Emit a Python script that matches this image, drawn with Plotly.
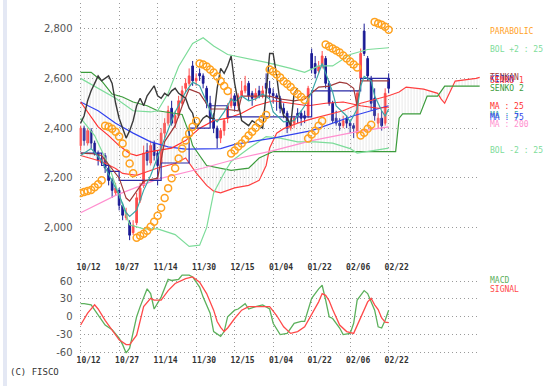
import plotly.graph_objects as go

# ---------------- data ----------------
dates = ["10/12", "10/27", "11/14", "11/30", "12/15", "01/04", "01/22", "02/06", "02/22"]
date_idx = [0, 11, 22, 33, 44, 55, 66, 77, 88]
price_ticks = [2000, 2200, 2400, 2600, 2800]
price_labels = ["2,000", "2,200", "2,400", "2,600", "2,800"]
macd_ticks = [60, 30, 0, -30, -60]
macd_labels = ["60", "30", "0", "-30", "-60"]

bars = list(range(89))
opens = [2330, 2400, 2340, 2390, 2340, 2300, 2260, 2290, 2240, 2190, 2140, 2150, 2090, 2040, 2020, 1980, 2020, 2110, 2170, 2310,
         2260, 2340, 2300, 2260, 2380, 2420, 2480, 2420, 2450, 2500, 2560, 2580, 2650, 2590, 2620, 2610, 2560, 2500, 2440, 2400,
         2360, 2390, 2440, 2490, 2530, 2490, 2530, 2550, 2580, 2540, 2520, 2550, 2530, 2580, 2560, 2540, 2530, 2520, 2480, 2460,
         2400, 2420, 2460, 2460, 2450, 2450, 2700, 2660, 2630, 2650, 2680, 2580, 2500, 2440, 2420, 2410, 2440, 2420, 2410, 2380,
         2600, 2790, 2680, 2600, 2520, 2420, 2440, 2420, 2600]
highs = [2410, 2410, 2400, 2400, 2350, 2310, 2300, 2300, 2250, 2200, 2180, 2160, 2100, 2080, 2030, 2030, 2140, 2180, 2330, 2340,
         2350, 2350, 2310, 2400, 2440, 2490, 2510, 2470, 2530, 2570, 2600, 2640, 2670, 2620, 2640, 2620, 2570, 2530, 2460, 2410,
         2400, 2440, 2500, 2560, 2540, 2540, 2590, 2610, 2590, 2550, 2560, 2570, 2570, 2620, 2590, 2560, 2540, 2530, 2500, 2470,
         2440, 2450, 2480, 2470, 2470, 2570, 2720, 2690, 2670, 2710, 2690, 2590, 2510, 2470, 2440, 2450, 2450, 2430, 2420, 2550,
         2720, 2820, 2690, 2610, 2560, 2460, 2470, 2560, 2620]
lows = [2310, 2330, 2330, 2320, 2290, 2250, 2250, 2220, 2170, 2120, 2130, 2070, 2030, 2030, 1950, 1970, 2010, 2100, 2160, 2250,
        2250, 2270, 2170, 2250, 2360, 2410, 2410, 2400, 2440, 2490, 2540, 2570, 2570, 2570, 2590, 2560, 2480, 2420, 2380, 2320,
        2340, 2370, 2420, 2480, 2470, 2480, 2520, 2540, 2510, 2490, 2510, 2520, 2520, 2540, 2520, 2500, 2470, 2460, 2440, 2380,
        2390, 2400, 2420, 2410, 2420, 2440, 2620, 2600, 2620, 2640, 2560, 2490, 2420, 2410, 2390, 2400, 2400, 2380, 2360, 2370,
        2590, 2690, 2590, 2470, 2430, 2400, 2390, 2410, 2540]
closes = [2400, 2350, 2390, 2340, 2300, 2270, 2280, 2240, 2190, 2150, 2160, 2090, 2050, 2060, 1970, 2010, 2120, 2160, 2300, 2270,
          2330, 2290, 2250, 2380, 2420, 2470, 2420, 2450, 2510, 2550, 2580, 2610, 2590, 2600, 2610, 2580, 2500, 2440, 2400, 2360,
          2390, 2430, 2490, 2520, 2490, 2530, 2550, 2570, 2530, 2520, 2540, 2530, 2550, 2560, 2540, 2530, 2520, 2480, 2460, 2400,
          2420, 2440, 2450, 2440, 2440, 2560, 2640, 2620, 2650, 2690, 2580, 2500, 2430, 2420, 2410, 2430, 2420, 2410, 2400, 2540,
          2700, 2700, 2610, 2500, 2450, 2440, 2410, 2540, 2560]

ma5_idx = [0, 3, 6, 9, 11, 13, 14, 16, 18, 20, 22, 24, 27, 30, 32, 34, 36, 38, 39, 41, 43, 44, 46, 48, 50, 52, 54, 55, 58, 61,
           62, 64, 66, 67, 68, 69, 70, 72, 73, 76, 77, 79, 80, 81, 83, 84, 86, 87, 88]
ma5_val = [2290, 2318, 2270, 2190, 2131, 2060, 2045, 2070, 2150, 2210, 2280, 2358, 2465, 2545, 2585, 2570, 2505, 2437, 2425, 2465,
           2517, 2505, 2529, 2510, 2517, 2537, 2517, 2465, 2425, 2430, 2449, 2489, 2545, 2580, 2620, 2660, 2624, 2545, 2489, 2449,
           2425, 2477, 2569, 2608, 2590, 2529, 2470, 2449, 2477]
ma25_idx = [0, 2, 5, 8, 11, 14, 16, 20, 22, 26, 30, 34, 38, 42, 46, 50, 55, 60, 65, 70, 75, 80, 85, 88]
ma25_val = [2505, 2465, 2405, 2370, 2330, 2298, 2290, 2306, 2310, 2320, 2350, 2400, 2430, 2440, 2460, 2490, 2510, 2500, 2490, 2500,
            2505, 2490, 2480, 2485]
ma75_idx = [0, 5, 10, 15, 20, 25, 30, 40, 44, 55, 66, 78, 88]
ma75_val = [2505, 2470, 2420, 2380, 2345, 2325, 2316, 2318, 2335, 2360, 2390, 2450, 2490]
ma200_idx = [0, 10, 22, 35, 45, 55, 66, 79, 88]
ma200_val = [2060, 2130, 2195, 2240, 2278, 2310, 2350, 2386, 2405]

bolu_idx = [0, 5, 10, 15, 20, 22, 25, 28, 32, 35, 38, 42, 48, 53, 60, 64, 68, 72, 77, 82, 88]
bolu_val = [2600, 2560, 2520, 2470, 2465, 2470, 2540, 2648, 2740, 2763, 2730, 2696, 2680, 2664, 2640, 2624, 2650, 2650, 2696,
            2716, 2723]
boll_idx = [0, 4, 8, 11, 14, 18, 22, 27, 31, 34, 36, 38, 41, 43, 48, 53, 57, 62, 67, 72, 77, 79, 83, 88]
boll_val = [2440, 2370, 2250, 2130, 2012, 1995, 1995, 1972, 1925, 1930, 2000, 2140, 2220, 2266, 2318, 2366, 2360, 2345, 2345,
            2340, 2318, 2300, 2310, 2320]

tenkan_idx = [0, 3, 6, 9, 11, 13, 14, 16, 18, 22, 24, 27, 29, 31, 34, 37, 41, 45, 46, 54, 57, 61, 64, 68, 71, 74, 76, 78, 79,
              80, 88]
tenkan_val = [2300, 2298, 2290, 2238, 2200, 2119, 2107, 2147, 2187, 2199, 2346, 2410, 2489, 2557, 2540, 2477, 2477, 2470, 2529,
              2529, 2517, 2510, 2517, 2565, 2569, 2585, 2580, 2560, 2490, 2590, 2590]
kijun_idx = [0, 6, 8, 11, 23, 31, 37, 42, 66, 80, 88]
kijun_val = [2300, 2250, 2226, 2190, 2260, 2400, 2490, 2445, 2550, 2600, 2600]
senkou1_idx = [0, 6, 10, 12, 16, 19, 22, 27, 30, 33, 36, 38, 40, 44, 48, 51, 53, 54, 56, 58, 62, 66, 68, 75, 80, 88, 91, 93,
               98, 102, 103, 104, 105, 107, 113, 114]
senkou1_val = [2290, 2266, 2238, 2218, 2210, 2226, 2240, 2258, 2280, 2220, 2170, 2147, 2140, 2160, 2170, 2190, 2250, 2320, 2380,
               2398, 2420, 2437, 2445, 2470, 2500, 2530, 2545, 2565, 2557, 2540, 2517, 2500, 2530, 2589, 2600, 2604]
senkou2_idx = [0, 3, 6, 9, 12, 15, 19, 22, 29, 31, 32, 36, 43, 48, 51, 55, 90, 91, 92, 97, 99, 102, 104, 114]
senkou2_val = [2624, 2624, 2590, 2537, 2525, 2505, 2490, 2470, 2455, 2380, 2330, 2250, 2230, 2239, 2280, 2306, 2306, 2440, 2457,
               2457, 2529, 2529, 2569, 2569]
chikou_lag = 26

sar_val = [2139, 2143, 2147, 2151, 2163, 2175, 2191,
           2410, 2406, 2398, 2386, 2366, 2338, 2298, 2258, 2219,
           1960, 1968, 1976, 1988, 2004, 2024, 2048, 2080, 2119, 2159, 2199, 2239, 2278, 2318, 2350, 2378, 2406, 2429,
           2660, 2656, 2648, 2636, 2624, 2608, 2588, 2569, 2549,
           2298, 2310, 2326, 2338, 2354, 2370, 2386, 2402, 2421, 2437, 2453,
           2636, 2628, 2616, 2604, 2588, 2577, 2565, 2549, 2537, 2525, 2513,
           2358, 2374, 2390, 2410, 2429,
           2736, 2728, 2720, 2712, 2704, 2692, 2680, 2668, 2656, 2644,
           2370, 2382, 2398, 2414,
           2827, 2821, 2815, 2807, 2795]

macd_idx = [0, 1, 3, 5, 7, 9, 11, 12, 13, 14, 16, 17, 19, 20, 21, 23, 25, 26, 28, 29, 31, 32, 34, 35, 37, 38, 40, 41, 42, 44,
            45, 47, 48, 50, 52, 54, 55, 57, 59, 61, 63, 64, 66, 68, 69, 70, 71, 72, 74, 75, 77, 78, 79, 81, 82, 84, 85, 86, 87, 88]
macd_val = [22, 22, 20, 3, -14, -22, -36, -47, -61, -53, 0, 17, 47, 39, 13, 33, 63, 61, 63, 70, 70, 67, 50, 33, 6, -25, -33, -25,
            0, 11, 13, 22, 13, 17, 20, 13, -11, -30, -28, -11, -8, -8, 31, 47, 53, 28, 0, -3, -19, -30, -28, -11, 28, 44, 39, 11,
            -17, -19, -6, 11]
signal_idx = [0, 2, 4, 5, 7, 9, 11, 13, 14, 16, 17, 18, 20, 21, 23, 25, 27, 30, 32, 34, 36, 38, 39, 40, 41, 42, 44, 46, 48, 51,
              54, 56, 58, 60, 62, 64, 66, 68, 69, 70, 71, 72, 74, 76, 78, 80, 81, 82, 83, 84, 85, 86, 87, 88]
signal_val = [-14, 6, 20, 13, -6, -22, -39, -47, -47, -31, -8, 17, 31, 28, 28, 44, 56, 64, 67, 58, 39, 11, -8, -18, -25, -19, -3,
              11, 17, 17, 17, 2, -17, -28, -25, -17, 3, 25, 39, 36, 27, 12, -14, -25, -28, 0, 12, 25, 31, 20, 12, -2, -9, -10]

legend_text = ["PARABOLIC", "BOL +2 : 25", "TENKAN", "KIJUN", "SENKO 1", "SENKO 2", "MA : 25", "MA : 5", "MA : 75",
               "MA : 200", "BOL -2 : 25", "MACD", "SIGNAL"]

# ---------------- styles ----------------
W, H = 548, 390
C_UP, C_DN = "#ff4d4d", "#1c1c96"
C_MA5, C_MA25, C_MA75, C_MA200 = "#3aa6a6", "#ff3030", "#3344ee", "#ff8fcf"
C_BOL, C_S1, C_S2 = "#7ddc9a", "#ff4040", "#3c9c3c"
C_TEN, C_KIJ, C_CHI, C_SAR = "#a03a3a", "#2a2aa6", "#3a3a3a", "#ffa21f"
C_MACD, C_SIG = "#5cb05c", "#ff4a4a"

fig = go.Figure()


def add_line(xs, ys, color, width=1.2, shape="linear", xa="x", ya="y", **kw):
    fig.add_trace(go.Scatter(x=xs, y=ys, mode="lines", line=dict(color=color, width=width, shape=shape),
                             hoverinfo="skip", showlegend=False, xaxis=xa, yaxis=ya, **kw))


# cloud
add_line(senkou1_idx, senkou1_val, C_S1, 1.2)
add_line(senkou2_idx, senkou2_val, C_S2, 1.2, fill="tonexty", fillcolor="rgba(255,255,255,0)",
         fillpattern=dict(shape="|", fgcolor="#c4c4c4", bgcolor="rgba(255,255,255,0)", size=3, solidity=0.25))
# bollinger, MAs, ichimoku
add_line(bolu_idx, bolu_val, C_BOL, 1.2)
add_line(boll_idx, boll_val, C_BOL, 1.2)
add_line(ma200_idx, ma200_val, C_MA200, 1.2)
add_line(ma75_idx, ma75_val, C_MA75, 1.2)
add_line(ma25_idx, ma25_val, C_MA25, 1.2)
add_line(kijun_idx, kijun_val, C_KIJ, 1.2, shape="hv")
add_line(tenkan_idx, tenkan_val, C_TEN, 1.2)
add_line(ma5_idx, ma5_val, C_MA5, 1.2)
add_line(bars[:len(bars) - chikou_lag], closes[chikou_lag:], C_CHI, 1.4)

fig.add_trace(go.Candlestick(x=bars, open=opens, high=highs, low=lows, close=closes,
                             increasing=dict(line=dict(color=C_UP, width=1), fillcolor=C_UP),
                             decreasing=dict(line=dict(color=C_DN, width=1), fillcolor=C_DN),
                             whiskerwidth=0, hoverinfo="skip", showlegend=False, xaxis="x", yaxis="y"))

fig.add_trace(go.Scatter(x=bars, y=sar_val, mode="markers",
                         marker=dict(symbol="circle-open", size=7, color=C_SAR, line=dict(width=1.5, color=C_SAR)),
                         hoverinfo="skip", showlegend=False, xaxis="x", yaxis="y"))

# MACD
add_line(macd_idx, macd_val, C_MACD, 1.3, xa="x2", ya="y2")
add_line(signal_idx, signal_val, C_SIG, 1.3, xa="x2", ya="y2")

X0, X1 = 77 / W, 480 / W
grid = dict(showgrid=True, gridcolor="#9a9a9a", griddash="1px,3px", gridwidth=1, zeroline=False, showline=False)
xcommon = dict(domain=[X0, X1], range=[-0.3, 114.2], tickvals=date_idx, ticktext=dates, ticks="",
               tickfont=dict(family="DejaVu Sans Mono", size=8, color="#333", weight="bold"), ticklabelshift=8, **grid)
ytick_font = dict(family="DejaVu Sans", size=10, color="#555")

fig.update_layout(
    width=W, height=H, margin=dict(l=0, r=0, t=0, b=0), paper_bgcolor="white", plot_bgcolor="white",
    showlegend=False, hovermode=False,
    xaxis=dict(anchor="y", rangeslider=dict(visible=False), **xcommon),
    xaxis2=dict(anchor="y2", matches="x", **xcommon),
    yaxis=dict(domain=[1 - 264 / H, 1 - 3 / H], range=[1865, 2903], tickvals=price_ticks, ticktext=price_labels,
               ticks="outside", ticklen=4, tickcolor="rgba(0,0,0,0)", tickfont=ytick_font, **grid),
    yaxis2=dict(domain=[1 - 358 / H, 1 - 273 / H], range=[-63.3, 78.3], tickvals=macd_ticks, ticktext=macd_labels,
                ticks="outside", ticklen=4, tickcolor="rgba(0,0,0,0)", tickfont=ytick_font, **grid),
)

leg_colors = [C_SAR, C_BOL, C_TEN, C_KIJ, C_S1, C_S2, C_MA25, C_MA5, C_MA75, C_MA200, C_BOL, C_MACD, C_SIG]
leg_y = [32, 50, 78, 80, 81, 89, 108, 117, 119, 126, 152, 283, 293]
for t, c, yp in zip(legend_text, leg_colors, leg_y):
    fig.add_annotation(text=t, xref="paper", yref="paper", x=488 / W, y=1 - yp / H, xanchor="left", yanchor="middle",
                       showarrow=False, font=dict(family="DejaVu Sans Mono", size=8, color=c))
fig.add_annotation(text="(C) FISCO", xref="paper", yref="paper", x=5 / W, y=1 - 376 / H, xanchor="left",
                   yanchor="middle", showarrow=False, font=dict(family="DejaVu Sans Mono", size=9, color="#333"))
fig.add_shape(type="rect", xref="paper", yref="paper", x0=0, x1=4 / W, y0=0, y1=1, fillcolor="#e4e8f4",
              line=dict(width=0), layer="below")

fig.write_html("out.html", config={"displayModeBar": False, "staticPlot": True},
               post_script="document.body.style.margin='0';document.body.style.overflow='hidden';")
